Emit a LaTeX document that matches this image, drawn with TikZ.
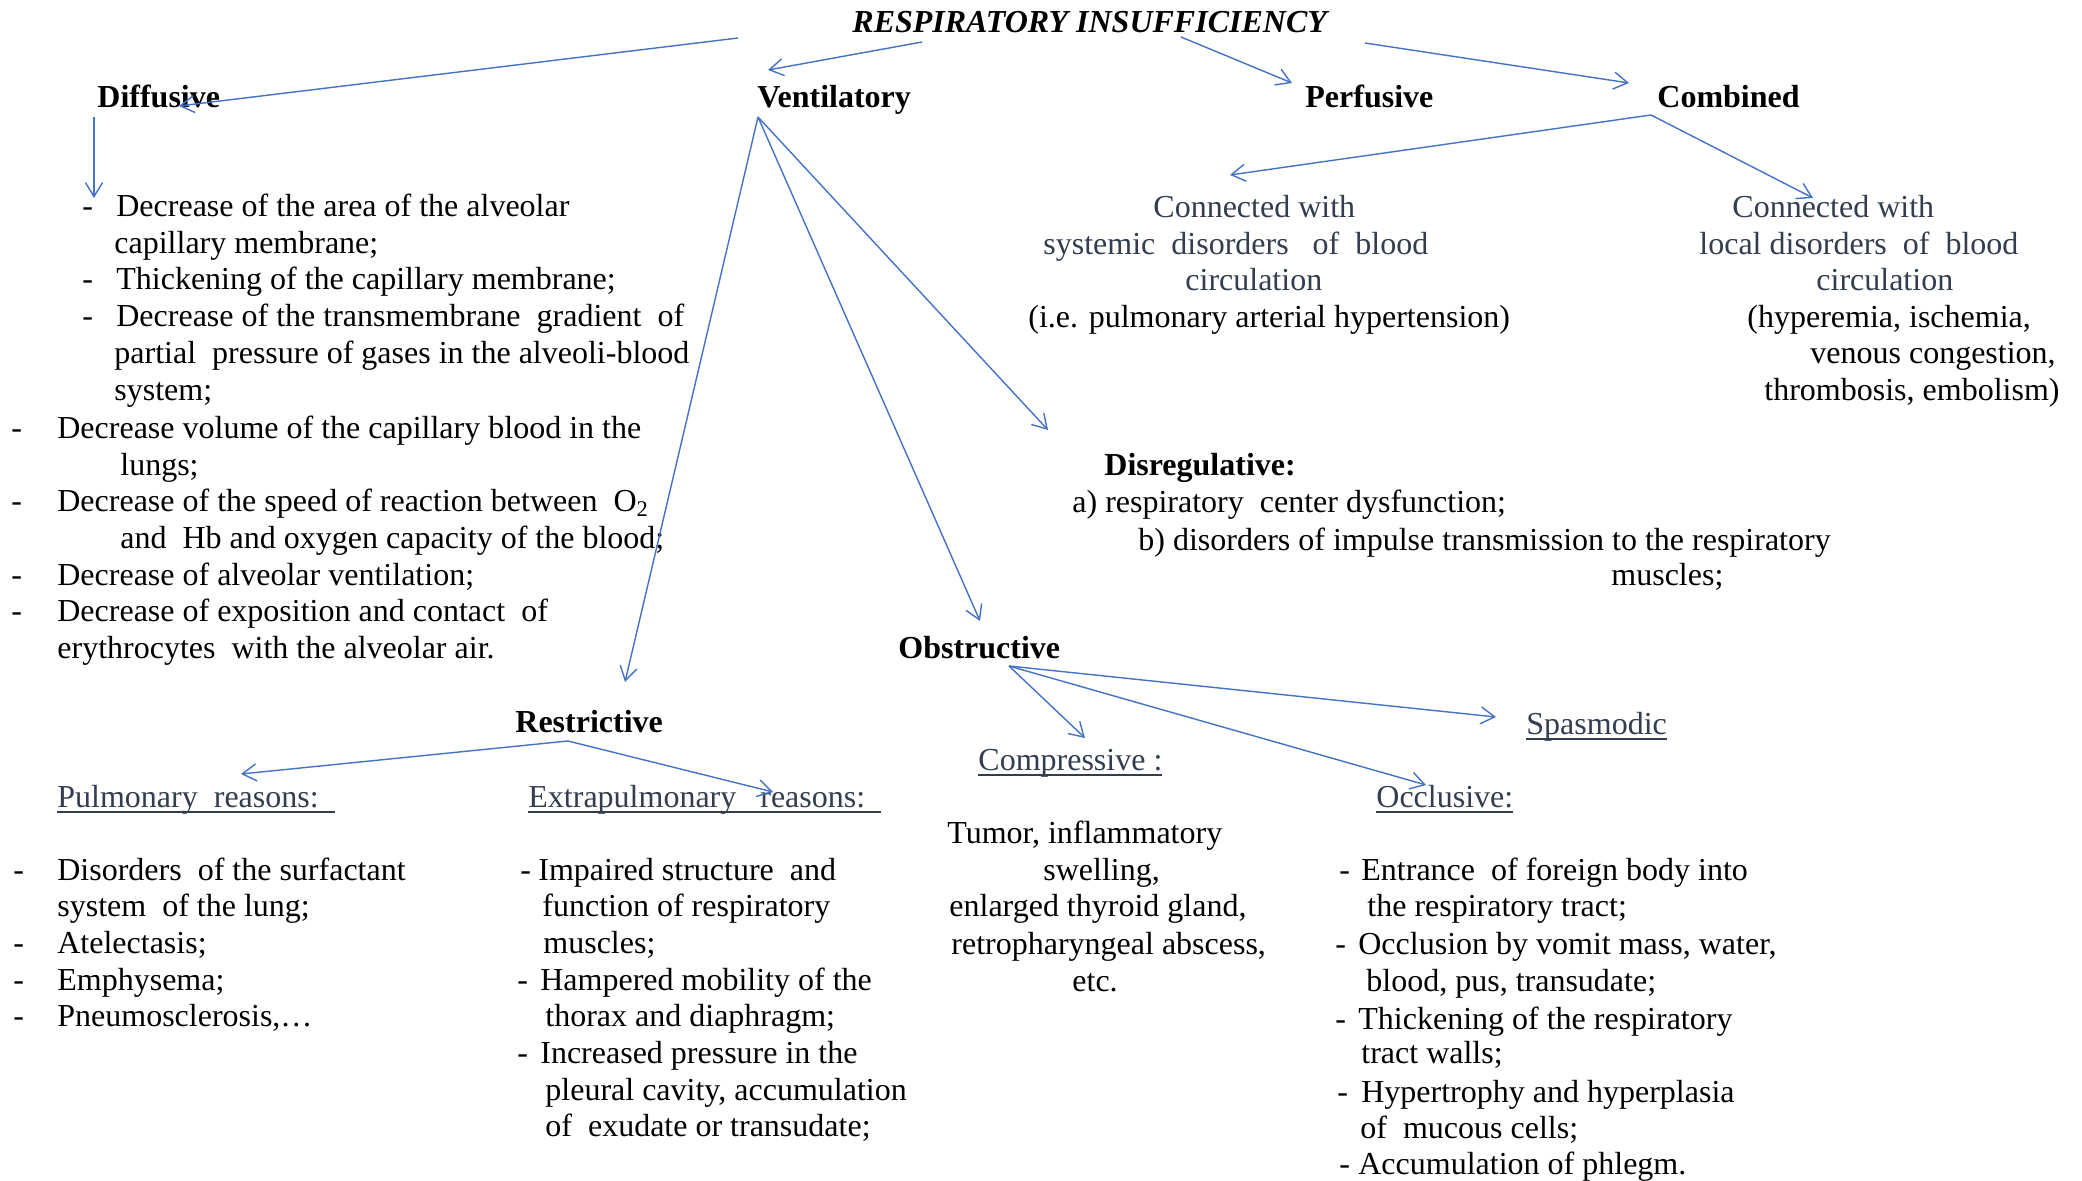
\documentclass[tikz,border=0pt]{standalone}
\usepackage{fontspec}
\setmainfont{Liberation Serif}
\usetikzlibrary{arrows.meta}
\definecolor{arrowblue}{HTML}{4472C4}
\definecolor{textgb}{HTML}{323E4F}
\newcommand\ult[2][0pt]{\setbox0\hbox{#2}\rlap{\rule[-2.6pt]{\dimexpr\wd0+#1\relax}{0.9pt}}\box0}
\newcommand\dsh[1]{\makebox[#1][l]{-}}
\tikzset{
  x=0.5pt, y=-0.5pt,
  ln/.style={anchor=west, inner sep=0pt, font=\fontsize{16pt}{18.5pt}\selectfont, text height=0.7em, text depth=0.25em},
  hd/.style={ln, font=\fontsize{16pt}{18.5pt}\selectfont\bfseries},
  gb/.style={text=textgb},
  arr/.style={draw=arrowblue, line width=0.7pt, -{Straight Barb[length=7pt,width=8.5pt,line width=0.7pt]}}
}
\begin{document}
\begin{tikzpicture}
\fill[white] (0,0) rectangle (2082,1181);
\useasboundingbox (0,0) rectangle (2082,1181);

\begin{scope}[yshift=-3pt]
% title and headers
\node[ln, font=\fontsize{16pt}{18.5pt}\selectfont\bfseries\itshape] (title) at (852,22) {RESPIRATORY INSUFFICIENCY};
\node[hd] (diff) at (97,97) {Diffusive};
\node[hd] (vent) at (757,97) {Ventilatory};
\node[hd] (perf) at (1305,97) {Perfusive};
\node[hd] (comb) at (1657,97) {Combined};

% Diffusive list
\node[ln] (d1) at (82,206) {\dsh{17pt}Decrease of the area of the alveolar};
\node[ln] (d2) at (114,243) {capillary membrane;};
\node[ln] (d3) at (82,279) {\dsh{17pt}Thickening of the capillary membrane;};
\node[ln] (d4) at (82,316) {\dsh{17pt}Decrease of the transmembrane\ \ gradient\ \ of};
\node[ln] (d5) at (114,353) {partial\ \ pressure of gases in the alveoli-blood};
\node[ln] (d6) at (114,390) {system;};
\node[ln] (d7) at (11,428) {\dsh{23pt}Decrease volume of the capillary blood in the};
\node[ln] (d8) at (120,465) {lungs;};
\node[ln] (d9) at (11,501) {\dsh{23pt}Decrease of the speed of reaction between\ \ O\textsubscript{2}};
\node[ln] (d10) at (120,538) {and\ \ Hb and oxygen capacity of the blood;};
\node[ln] (d11) at (11,575) {\dsh{23pt}Decrease of alveolar ventilation;};
\node[ln] (d12) at (11,611) {\dsh{23pt}Decrease of exposition and contact\ \ of};
\node[ln] (d13) at (57,648) {erythrocytes\ \ with the alveolar air.};

% Combined blocks
\node[ln, gb] (s1) at (1153,207) {Connected with};
\node[ln, gb] (s2) at (1043,244) {systemic\ \ disorders\ \ \ of\ \ blood};
\node[ln, gb] (s3) at (1185,280) {circulation};
\node[ln] (s4) at (1028,317) {(i.e. pulmonary arterial hypertension)};
\node[ln, gb] (l1) at (1732,207) {Connected with};
\node[ln, gb] (l2) at (1699,244) {local disorders\ \ of\ \ blood};
\node[ln, gb] (l3) at (1816,280) {circulation};
\node[ln] (l4) at (1747,317) {(hyperemia, ischemia,};
\node[ln] (l5) at (1810,353) {venous congestion,};
\node[ln] (l6) at (1764,390) {thrombosis, embolism)};

% Disregulative
\node[hd] (disr) at (1104,465) {Disregulative:};
\node[ln] (r1) at (1072,502) {a) respiratory\ \ center dysfunction;};
\node[ln] (r2) at (1138,540) {b) disorders of impulse transmission to the respiratory};
\node[ln] (r3) at (1611,575) {muscles;};

% Restrictive
\node[hd] (restr) at (515,722) {Restrictive};
\node[ln, gb] (pulm) at (57,797) {\ult[8pt]{Pulmonary\ \ reasons:}};
\node[ln, gb] (extr) at (528,797) {\ult[8pt]{Extrapulmonary\ \ \ reasons:}};
\node[ln] (p1) at (13,870) {\dsh{22pt}Disorders\ \ of the surfactant};
\node[ln] (p2) at (57,906) {system\ \ of the lung;};
\node[ln] (p3) at (13,943) {\dsh{22pt}Atelectasis;};
\node[ln] (p4) at (13,980) {\dsh{22pt}Emphysema;};
\node[ln] (p5) at (13,1016) {\dsh{22pt}Pneumosclerosis,…};
\node[ln] (e1) at (520,870) {\dsh{9pt}Impaired structure\ \ and};
\node[ln] (e2) at (542,906) {function of respiratory};
\node[ln] (e3) at (543,943) {muscles;};
\node[ln] (e4) at (517,980) {\dsh{11.5pt}Hampered mobility of the};
\node[ln] (e5) at (545,1016) {thorax and diaphragm;};
\node[ln] (e6) at (517,1053) {\dsh{11.5pt}Increased pressure in the};
\node[ln] (e7) at (545,1090) {pleural cavity, accumulation};
\node[ln] (e8) at (545,1126) {of\ \ exudate or transudate;};

% Obstructive
\node[hd] (obst) at (898,648) {Obstructive};
\node[ln, gb] (comp) at (978,760) {\ult{Compressive :}};
\node[ln, gb] (occl) at (1376,797) {\ult{Occlusive:}};
\node[ln, gb] (spas) at (1526,724) {\ult{Spasmodic}};
\node[ln] (c1) at (947,833) {Tumor, inflammatory};
\node[ln] (c2) at (1043,870) {swelling,};
\node[ln] (c3) at (949,906) {enlarged thyroid gland,};
\node[ln] (c4) at (951,944) {retropharyngeal abscess,};
\node[ln] (c5) at (1072,981) {etc.};
\node[ln] (o1) at (1339,870) {\dsh{11pt}Entrance\ \ of foreign body into};
\node[ln] (o2) at (1367,906) {the respiratory tract;};
\node[ln] (o3) at (1335,944) {\dsh{11.5pt}Occlusion by vomit mass, water,};
\node[ln] (o4) at (1366,981) {blood, pus, transudate;};
\node[ln] (o5) at (1335,1019) {\dsh{11.5pt}Thickening of the respiratory};
\node[ln] (o6) at (1361,1053) {tract walls;};
\node[ln] (o7) at (1337,1092) {\dsh{12pt}Hypertrophy and hyperplasia};
\node[ln] (o8) at (1360,1128) {of\ \ mucous cells;};
\node[ln] (o9) at (1339,1164) {\dsh{9.5pt}Accumulation of phlegm.};
\end{scope}

% coordinates for connector ends
\coordinate (t1) at (738,38);
\coordinate (t2) at (922,42);
\coordinate (t3) at (1181,37);
\coordinate (t4) at (1365,43);
\coordinate (diffin) at (179,106);
\coordinate (ventin) at (768,70);
\coordinate (perfin) at (1292,83);
\coordinate (combin) at (1629,83);
\coordinate (diffout) at (94,117);
\coordinate (diffend) at (94,198);
\coordinate (ventout) at (758,117);
\coordinate (restrin) at (625,682);
\coordinate (obstin) at (980,621);
\coordinate (disrin) at (1048,430);
\coordinate (combout) at (1651,115);
\coordinate (sysin) at (1230,175);
\coordinate (locin) at (1813,198);
\coordinate (restrout) at (568,741);
\coordinate (pulmin) at (241,774);
\coordinate (extrin) at (773,792);
\coordinate (obstout) at (1009,666);
\coordinate (compin) at (1085,738);
\coordinate (occlin) at (1426,785);
\coordinate (spasin) at (1496,717);

\draw[arr] (t1) -- (diffin);
\draw[arr] (t2) -- (ventin);
\draw[arr] (t3) -- (perfin);
\draw[arr] (t4) -- (combin);
\draw[arr] (diffout) -- (diffend);
\draw[arr] (ventout) -- (restrin);
\draw[arr] (ventout) -- (obstin);
\draw[arr] (ventout) -- (disrin);
\draw[arr] (combout) -- (sysin);
\draw[arr] (combout) -- (locin);
\draw[arr] (restrout) -- (pulmin);
\draw[arr] (restrout) -- (extrin);
\draw[arr] (obstout) -- (compin);
\draw[arr] (obstout) -- (occlin);
\draw[arr] (obstout) -- (spasin);
\end{tikzpicture}
\end{document}
